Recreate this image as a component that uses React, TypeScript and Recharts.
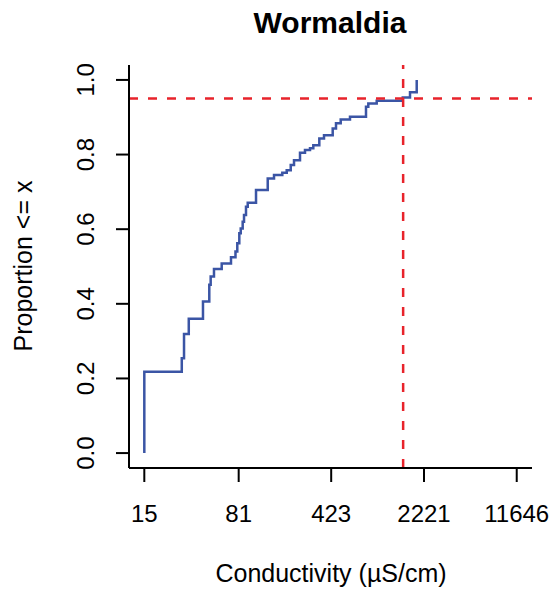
import * as React from "react";
import { LineChart, Line, XAxis, YAxis, ReferenceLine } from "recharts";

// ECDF of conductivity readings
const conductivity = [
  15, 15, 29.3, 30.5, 33.2, 42.8, 47.9, 49.1, 52.1, 59.8, 70.6, 76.5, 79.0, 81.9,
  84.0, 87.0, 89.1, 92.3, 95.2, 110.4, 136.1, 152.3, 176.6, 191.1, 205.3, 217.7,
  242.3, 264.9, 289.7, 307.3, 342.1, 372.1, 434.6, 461.0, 501.4, 591.9, 787.9,
  821.1, 954.1, 1520, 1730, 1950,
];
const proportion = [
  0, 0.218, 0.254, 0.319, 0.36, 0.406, 0.451, 0.473, 0.493, 0.508, 0.525, 0.54,
  0.562, 0.589, 0.602, 0.62, 0.638, 0.66, 0.671, 0.705, 0.736, 0.745, 0.751, 0.758,
  0.772, 0.785, 0.805, 0.812, 0.817, 0.825, 0.843, 0.852, 0.87, 0.884, 0.894, 0.901,
  0.928, 0.937, 0.944, 0.953, 0.967, 1.0,
];

const xTicks = [15, 81, 423, 2221, 11646];
const yTicks = [0, 0.2, 0.4, 0.6, 0.8, 1.0];

const cutoffProportion = 0.95;
const cutoffConductivity = 1530;

const title = "Wormaldia";
const xLabel = "Conductivity (\u00b5S/cm)";
const yLabel = "Proportion <= x";

const data = conductivity.map((x, i) => ({ x, p: proportion[i] }));

const FONT = "'Liberation Sans', Arial, Helvetica, sans-serif";

const XTick = (props: any) => {
  const { x, y, payload } = props;
  return (
    <text x={x} y={y + 38} textAnchor="middle" fontSize={24} fontFamily={FONT} fill="#000">
      {payload.value}
    </text>
  );
};

const YTick = (props: any) => {
  const { x, y, payload } = props;
  const tx = x - 20;
  return (
    <text
      x={tx}
      y={y}
      transform={`rotate(-90, ${tx}, ${y})`}
      textAnchor="middle"
      fontSize={24}
      fontFamily={FONT}
      fill="#000"
    >
      {Number(payload.value).toFixed(1)}
    </text>
  );
};

export default function App() {
  return (
    <div style={{ position: "absolute", left: 0, top: 0, width: 557, height: 591, background: "#fff" }}>
      <LineChart
        width={557}
        height={591}
        data={data}
        margin={{ top: 65, right: 25, bottom: 0, left: 0 }}
      >
        <XAxis
          dataKey="x"
          type="number"
          scale="log"
          domain={[11.41, 15300]}
          ticks={xTicks}
          allowDataOverflow
          height={123}
          tickSize={14}
          tickMargin={2}
          tick={<XTick />}
          axisLine={{ stroke: "#000", strokeWidth: 2 }}
          tickLine={{ stroke: "#000", strokeWidth: 2 }}
        />
        <YAxis
          type="number"
          domain={[-0.04, 1.04]}
          ticks={yTicks}
          allowDataOverflow
          width={129}
          tickSize={13}
          tickMargin={2}
          tick={<YTick />}
          axisLine={{ stroke: "#000", strokeWidth: 2 }}
          tickLine={{ stroke: "#000", strokeWidth: 2 }}
        />
        <Line
          type="stepAfter"
          dataKey="p"
          stroke="#3b55a5"
          strokeWidth={2.5}
          dot={false}
          isAnimationActive={false}
        />
        <ReferenceLine y={cutoffProportion} stroke="#e8232b" strokeWidth={2.5} strokeDasharray="9 10" />
        <ReferenceLine x={cutoffConductivity} stroke="#e8232b" strokeWidth={2.5} strokeDasharray="9 10" />
      </LineChart>
      <svg
        width={557}
        height={591}
        style={{ position: "absolute", left: 0, top: 0, pointerEvents: "none" }}
      >
        <text x={330} y={33} textAnchor="middle" fontSize={30} fontWeight="bold" fontFamily={FONT} fill="#000">
          {title}
        </text>
        <text x={331} y={582} textAnchor="middle" fontSize={25} fontFamily={FONT} fill="#000">
          {xLabel}
        </text>
        <text
          x={32}
          y={266}
          transform="rotate(-90, 32, 266)"
          textAnchor="middle"
          fontSize={25}
          fontFamily={FONT}
          fill="#000"
        >
          {yLabel}
        </text>
      </svg>
    </div>
  );
}
